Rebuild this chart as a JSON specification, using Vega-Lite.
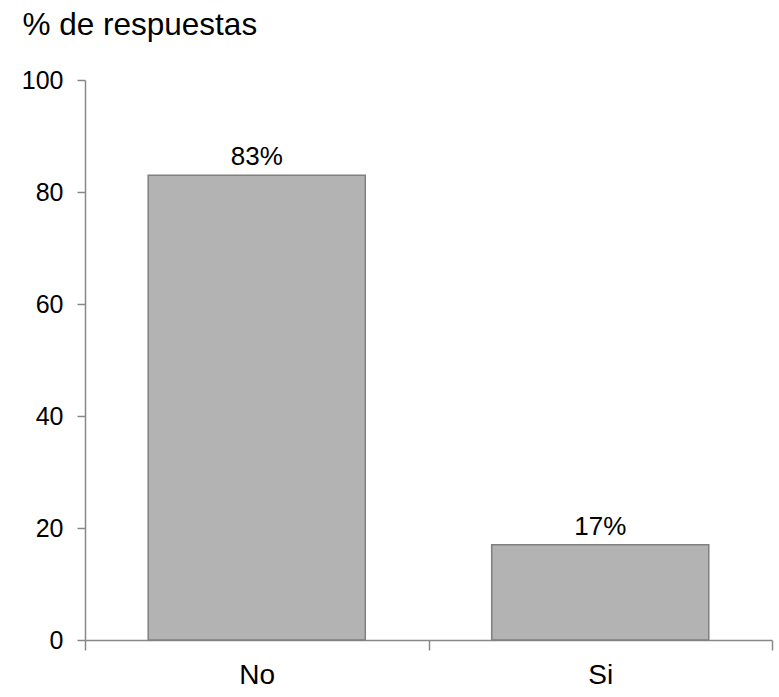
{
  "$schema": "https://vega.github.io/schema/vega-lite/v6.json",
  "autosize": "none",
  "width": 687,
  "height": 560,
  "padding": {"left": 85, "top": 80, "right": 7, "bottom": 57},
  "background": "white",
  "config": {
    "font": "Liberation Sans",
    "view": {"stroke": null}
  },
  "data": {
    "values": [
      {"respuesta": "No", "porcentaje": 83, "label": "83%"},
      {"respuesta": "Si", "porcentaje": 17, "label": "17%"}
    ]
  },
  "encoding": {
    "x": {
      "field": "respuesta",
      "type": "nominal",
      "sort": null,
      "scale": {"paddingInner": 0, "paddingOuter": 0},
      "axis": {
        "title": null,
        "labelAngle": 0,
        "labelFontSize": 28,
        "labelColor": "black",
        "labelBaseline": "alphabetic",
        "labelPadding": 33,
        "tickBand": "extent",
        "tickSize": 10,
        "tickColor": "#888888",
        "tickWidth": 1.5,
        "domainColor": "#888888",
        "domainWidth": 1.5,
        "grid": false
      }
    },
    "y": {
      "field": "porcentaje",
      "type": "quantitative",
      "scale": {"domain": [0, 100], "nice": false},
      "axis": {
        "values": [0, 20, 40, 60, 80, 100],
        "title": "% de respuestas",
        "titleAngle": 0,
        "titleAlign": "left",
        "titleBaseline": "alphabetic",
        "titleX": -63,
        "titleY": -46,
        "titleFontSize": 31.5,
        "titleFontWeight": "normal",
        "titleColor": "black",
        "labelFontSize": 25,
        "labelColor": "black",
        "labelPadding": 14,
        "tickSize": 8,
        "tickColor": "#888888",
        "tickWidth": 1.5,
        "domainColor": "#888888",
        "domainWidth": 1.5,
        "grid": false
      }
    }
  },
  "layer": [
    {
      "mark": {"type": "bar", "width": {"band": 0.632}, "fill": "#b3b3b3", "stroke": "#808080", "strokeWidth": 1.5}
    },
    {
      "mark": {"type": "text", "dy": -10, "baseline": "alphabetic", "fontSize": 26, "color": "black"},
      "encoding": {"text": {"field": "label"}}
    }
  ]
}
